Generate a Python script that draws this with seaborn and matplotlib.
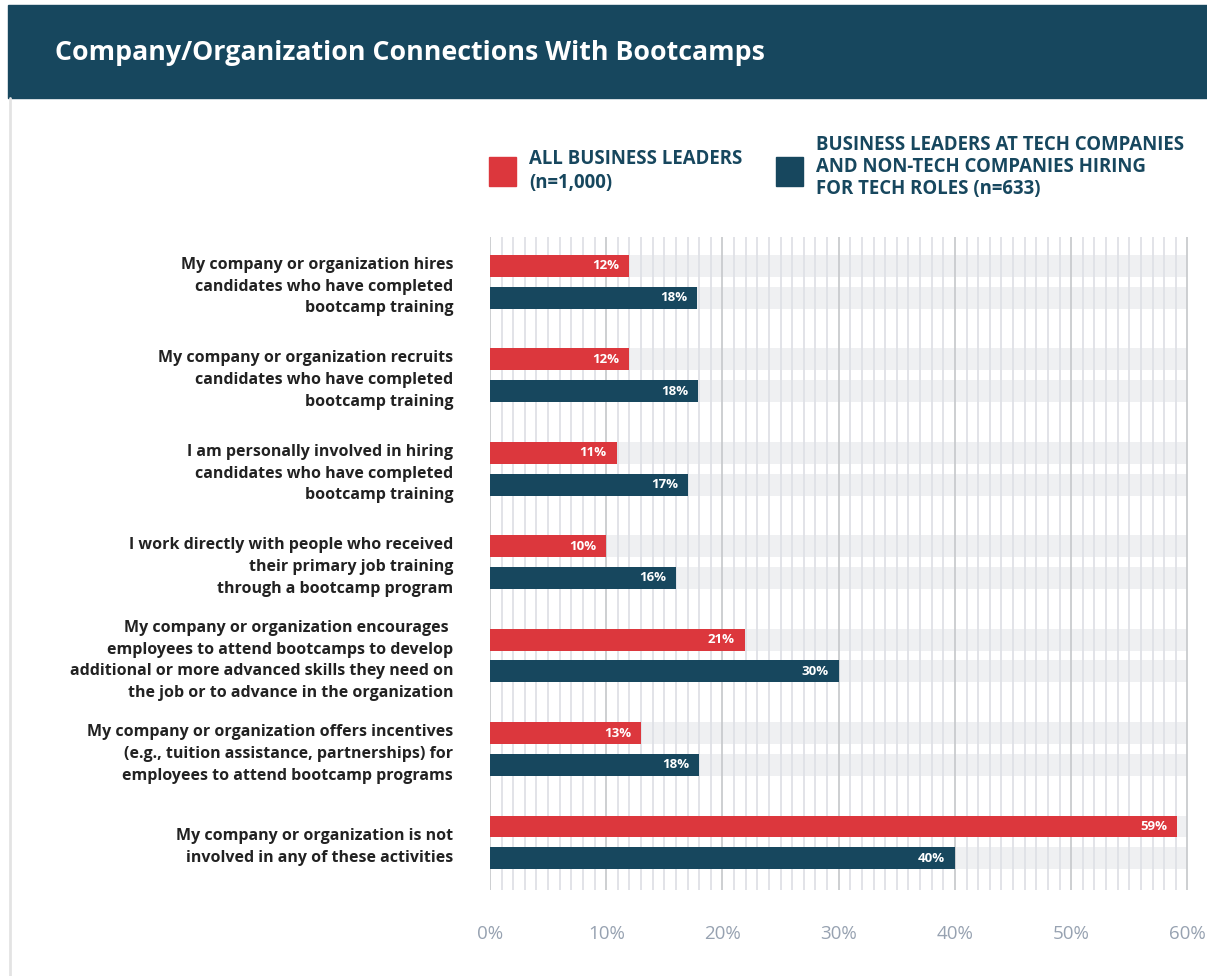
import pandas as pd
import matplotlib.pyplot as plt
import seaborn as sns
from matplotlib.patches import Rectangle
from matplotlib.lines import Line2D

# survey items (line breaks as in the chart)
categories = [
    'My company or organization hires\ncandidates who have completed\nbootcamp training',
    'My company or organization recruits\ncandidates who have completed\nbootcamp training',
    'I am personally involved in hiring\ncandidates who have completed\nbootcamp training',
    'I work directly with people who received\ntheir primary job training\nthrough a bootcamp program',
    'My company or organization encourages \nemployees to attend bootcamps to develop\nadditional or more advanced skills they need on\nthe job or to advance in the organization',
    'My company or organization offers incentives\n(e.g., tuition assistance, partnerships) for\nemployees to attend bootcamp programs',
    'My company or organization is not\ninvolved in any of these activities',
]
# bar lengths, printed labels
all_leaders = [12.0, 12.0, 10.9, 10.0, 21.9, 13.0, 59.1]
tech_leaders = [17.8, 17.9, 17.0, 16.0, 30.0, 18.0, 40.0]
all_labels = ['12%', '12%', '11%', '10%', '21%', '13%', '59%']
tech_labels = ['18%', '18%', '17%', '16%', '30%', '18%', '40%']
series = ['ALL BUSINESS LEADERS\n(n=1,000)',
          'BUSINESS LEADERS AT TECH COMPANIES\nAND NON-TECH COMPANIES HIRING\nFOR TECH ROLES (n=633)']
axis_max = 60
xticks = [0, 10, 20, 30, 40, 50, 60]

red = '#dc373d'
teal = '#17475e'
track = '#eff0f2'

df = pd.DataFrame({
    'item': categories * 2,
    'group': [series[0]] * len(categories) + [series[1]] * len(categories),
    'value': all_leaders + tech_leaders,
})
df['track'] = axis_max

sns.set_style('white')
plt.rcParams['font.family'] = ['Open Sans', 'DejaVu Sans']

fig = plt.figure(figsize=(12.07, 9.76), dpi=100)
ax = fig.add_axes([490 / 1207, 86 / 976, 698 / 1207, 653 / 976])

# grey tracks behind the bars
sns.barplot(data=df, y='item', x='track', hue='group', orient='h',
            palette=[track, track], width=0.68, gap=0.31, dodge=True,
            saturation=1, legend=False, ax=ax)
n_track = len(ax.patches)
sns.barplot(data=df, y='item', x='value', hue='group', orient='h',
            palette=[red, teal], width=0.68, gap=0.31, dodge=True,
            saturation=1, legend=False, ax=ax)
for i, p in enumerate(ax.patches):
    p.set_linewidth(0)
    p.set_zorder(0.8 if i < n_track else 2)

# value labels inside bar ends
bars = ax.patches[n_track:]
labels = all_labels + tech_labels
for p, lab in zip(bars, labels):
    ax.text(p.get_width() - 0.85, p.get_y() + p.get_height() / 2, lab,
            ha='right', va='center', color='white', fontsize=9.5,
            fontweight='bold', zorder=3)

# grid: thin every 1%, darker every 10%
for v in range(0, axis_max + 1):
    major = v % 10 == 0
    ax.axvline(v, color='#c9cbce' if major else '#dfe1e6',
               lw=1.3, zorder=1.5)

ax.set_xlim(0, axis_max + 0.05)
ax.set_ylim(6.51, -0.48)
ax.set_xticks(xticks)
ax.set_xticklabels([f'{t}%' for t in xticks])
ax.tick_params(axis='x', length=0, pad=25, labelsize=13.5, labelcolor='#97a2b1')
ax.tick_params(axis='y', length=0, pad=26.5)
for t in ax.get_yticklabels():
    t.set_fontweight('bold')
    t.set_fontsize(11.5)
    t.set_color('#222222')
    t.set_linespacing(1.48)
ax.set_xlabel('')
ax.set_ylabel('')
for s in ax.spines.values():
    s.set_visible(False)

# header banner
fig.patches.append(Rectangle((8 / 1207, 1 - 98 / 976), 1 - 8 / 1207, 93 / 976,
                             transform=fig.transFigure, color=teal, zorder=0))
fig.text(55 / 1207, 1 - 53 / 976, 'Company/Organization Connections With Bootcamps',
         color='white', fontsize=19.3, fontweight='bold', va='center')
fig.lines.append(Line2D([9.5 / 1207, 9.5 / 1207], [0, 1 - 98 / 976],
                        transform=fig.transFigure, color='#e3e3e3', lw=2))

# legend
for x0, col, txt, ty, ls in [(489, red, series[0], 171, 1.3), (776, teal, series[1], 167, 1.15)]:
    fig.patches.append(Rectangle((x0 / 1207, 1 - 186 / 976), 27 / 1207, 29 / 976,
                                 transform=fig.transFigure, color=col))
    fig.text((x0 + 40) / 1207, 1 - ty / 976, txt, color=teal, fontsize=13.4,
             fontweight='bold', va='center', ha='left', linespacing=ls)

fig.savefig('out.png', dpi=100, facecolor='white')
